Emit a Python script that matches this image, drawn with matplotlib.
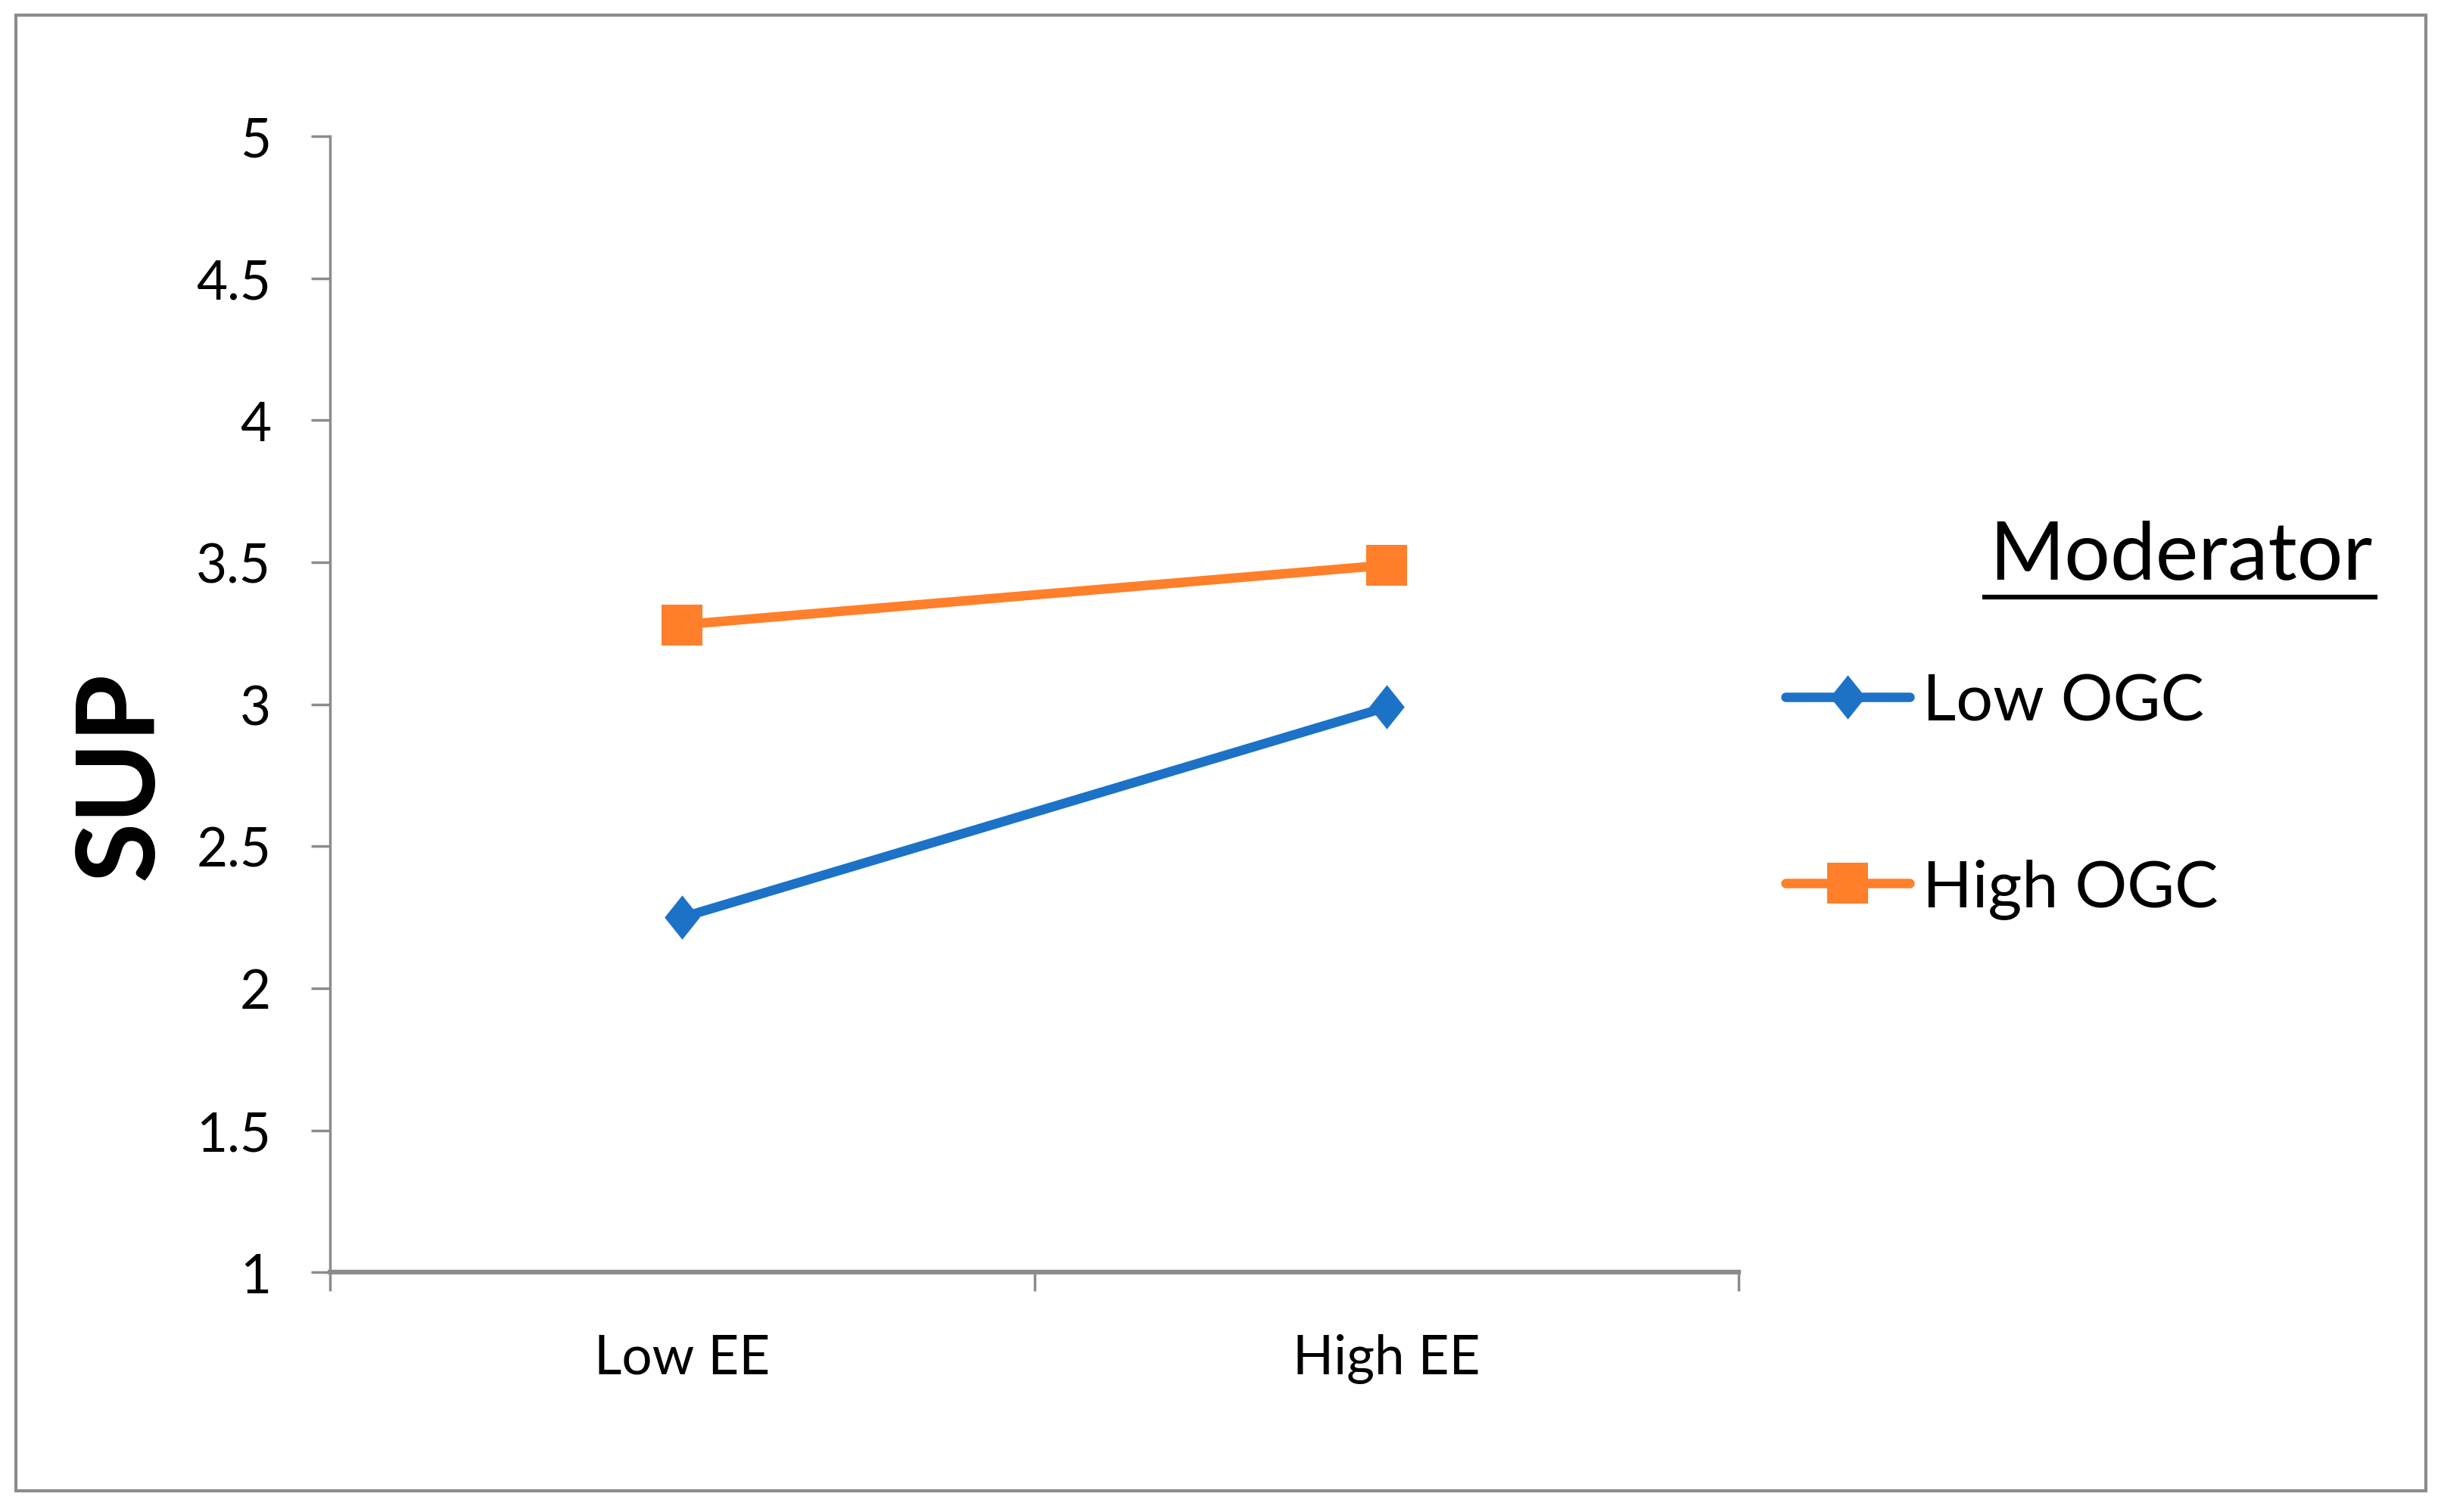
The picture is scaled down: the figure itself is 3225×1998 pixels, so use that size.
import matplotlib
matplotlib.use('Agg')
import matplotlib.pyplot as plt
from matplotlib.patches import Rectangle
from matplotlib.lines import Line2D

plt.rcParams['font.family'] = ['Lato', 'DejaVu Sans']

categories = ['Low EE', 'High EE']
low_ogc = [2.25, 2.99]
high_ogc = [3.28, 3.49]
series_names = ['Low OGC', 'High OGC']
y_ticks = [1, 1.5, 2, 2.5, 3, 3.5, 4, 4.5, 5]
y_labels = ['1', '1.5', '2', '2.5', '3', '3.5', '4', '4.5', '5']

blue = '#1C72C6'
orange = '#FF7F2A'
axis_gray = '#8C8C8C'

fig = plt.figure(figsize=(32.25, 19.99), dpi=100)
ax = fig.add_axes([0.1352, 0.1584, 0.7124 - 0.1352, 0.9095 - 0.1584])

# tall narrow diamond like the Excel marker
diamond = [(-0.4, 0), (0, 0.5), (0.4, 0), (0, -0.5), (-0.4, 0)]

x = list(range(len(categories)))
ax.plot(x, low_ogc, color=blue, lw=9, marker=diamond, ms=42,
        mec=blue, mew=0, solid_capstyle='round', label=series_names[0])
ax.plot(x, high_ogc, color=orange, lw=9, marker='s', ms=39,
        mec=orange, mew=0, solid_capstyle='round', label=series_names[1])

ax.set_xlim(-0.5, 1.5)
ax.set_ylim(1, 5)

ax.set_xticks([-0.5, 0.5, 1.5])
ax.set_xticklabels([])
ax.set_xticks(x, minor=True)
ax.set_xticklabels(categories, minor=True)
ax.tick_params(axis='x', which='minor', length=0, pad=58, labelsize=51)
ax.tick_params(axis='x', which='major', length=18, width=2.5, color=axis_gray)

ax.set_yticks(y_ticks)
ax.set_yticklabels(y_labels)
ax.tick_params(axis='y', length=18, width=2.5, color=axis_gray, pad=38, labelsize=51)

for s in ['top', 'right']:
    ax.spines[s].set_visible(False)
ax.spines['left'].set_color(axis_gray)
ax.spines['left'].set_linewidth(2.5)
ax.spines['bottom'].set_color(axis_gray)
ax.spines['bottom'].set_linewidth(4.5)

ax.set_ylabel('SUP', fontsize=104, fontweight='bold')
ax.yaxis.set_label_coords(-0.113, 0.438)

leg = fig.legend(loc='center left', bbox_to_anchor=(0.7315, 0.4735),
                 frameon=False, fontsize=62, handlelength=1.9,
                 handletextpad=0.2, labelspacing=1.95, borderpad=0,
                 borderaxespad=0)

fig.text(0.8935, 0.632, 'Moderator', fontsize=77, ha='center', va='center')
fig.add_artist(Line2D([0.813, 0.973], [0.605, 0.605], color='black', lw=4.5,
                      transform=fig.transFigure))

fig.add_artist(Rectangle((0.0065, 0.014), 0.9873, 0.9755, fill=False,
                         edgecolor=axis_gray, lw=3, transform=fig.transFigure))

fig.savefig('out.png', dpi=100)
